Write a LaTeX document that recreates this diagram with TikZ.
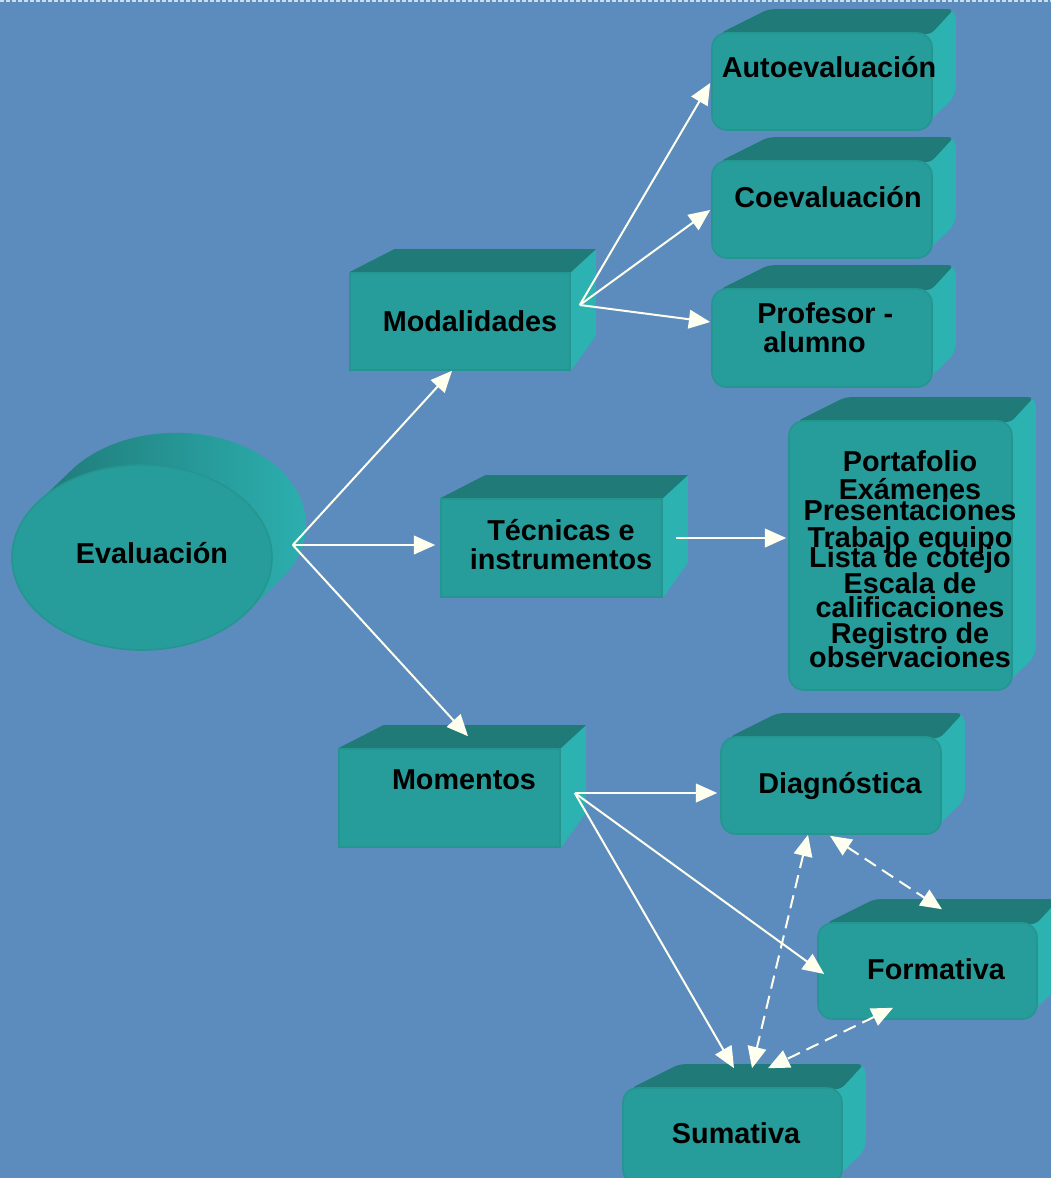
\documentclass[tikz,border=0pt]{standalone}
\usepackage{fontspec}
\setmainfont{Liberation Sans}
\usetikzlibrary{arrows.meta,shapes.geometric,fit}
\definecolor{bgc}{HTML}{5B8CBD}
\definecolor{frontc}{HTML}{279D9B}
\definecolor{edgec}{HTML}{25958F}
\definecolor{topc}{HTML}{1F7A78}
\definecolor{sidec}{HTML}{2DB2B2}
\definecolor{arrc}{HTML}{FFFFF0}
\definecolor{rimc}{HTML}{C9DEEA}
\newcommand\tightlines{\fontsize{21.6pt}{18pt}\selectfont\bfseries\lineskiplimit=-100pt\relax\lineskip=0pt\relax}
\pgfdeclarelayer{back}
\pgfdeclarelayer{mid}
\pgfsetlayers{back,mid,main}
\tikzset{
  frontsq/.style={fill=frontc, draw=edgec, line width=1.2pt, inner sep=0pt},
  frontrd/.style={frontsq, rounded corners=11pt},
  lbl/.style={font=\fontsize{21.6pt}{21.4pt}\selectfont\bfseries, text=black, inner sep=0pt},
  conn/.style={draw=arrc, color=arrc, line width=1.5pt, -{Triangle[length=16pt,width=14pt]}},
  dconn/.style={draw=arrc, color=arrc, line width=1.5pt, {Triangle[length=16pt,width=14pt]}-{Triangle[length=16pt,width=14pt]}, dash pattern=on 10pt off 5.5pt},
}
\newcommand\extsq[1]{%
  \begin{pgfonlayer}{mid}
  \fill[sidec] (#1.north east) -- ([shift={(25,-23)}]#1.north east) -- ([shift={(25,-35)}]#1.south east) -- (#1.south east) -- cycle;
  \fill[topc] (#1.north west) -- ([shift={(45,-23)}]#1.north west) -- ([shift={(25,-23)}]#1.north east) -- (#1.north east) -- cycle;
  \end{pgfonlayer}}
\newcommand\extrd[1]{%
  \begin{pgfonlayer}{mid}
  \fill[sidec, rounded corners=7pt] ([shift={(57,-23)}]#1.north west) -- ([shift={(23,-23)}]#1.north east) -- ([shift={(23,-35)}]#1.south east) -- ([shift={(-14,0)}]#1.south east) -- ([shift={(-14,0)}]#1.north east) -- cycle;
  \fill[topc, rounded corners=4pt] ([shift={(9,1)}]#1.north west) -- ([shift={(57,-23)}]#1.north west) -- ([shift={(21,-23)}]#1.north east) -- ([shift={(-2,2)}]#1.north east) -- cycle;
  \end{pgfonlayer}}
\begin{document}
\begin{tikzpicture}[x=0.75pt,y=-0.75pt]
\useasboundingbox (0,0) rectangle (1050,1178);
\begin{pgfonlayer}{back}
  \fill[bgc] (-6,-6) rectangle (1056,1184);
  \draw[rimc, line width=1.5pt, dash pattern=on 3pt off 1.5pt] (-6,1) -- (1056,1);
\end{pgfonlayer}

% Evaluacion (extruded ellipse)
\begin{pgfonlayer}{mid}
  \shade[left color=topc, right color=sidec] (247,611.7) -- (281,579)
    arc[start angle=-36.1, end angle=143.9, x radius=97.5pt, y radius=69pt] -- (37,503.3) -- cycle;
\end{pgfonlayer}
\node[ellipse, fill=frontc, draw=edgec, line width=1.2pt, inner sep=0pt,
      minimum width=195pt, minimum height=138.75pt] (evB) at (142,557.5) {};

% front faces
\node[frontsq, fit={(350,273)(570,370)}] (modB) {};
\node[frontsq, fit={(441,499)(662,597)}] (tecB) {};
\node[frontsq, fit={(339,749)(560,847)}] (momB) {};
\node[frontrd, fit={(712,33)(932,130)}] (autoB) {};
\node[frontrd, fit={(712,161)(932,258)}] (coB) {};
\node[frontrd, fit={(712,289)(932,387)}] (profB) {};
\node[frontrd, fit={(789,421)(1012,690)}] (portB) {};
\node[frontrd, fit={(721,737)(941,834)}] (diagB) {};
\node[frontrd, fit={(818,923)(1037,1019)}] (formB) {};
\node[frontrd, fit={(623,1088)(842,1184)}] (sumB) {};

\extsq{modB}\extsq{tecB}\extsq{momB}
\extrd{autoB}\extrd{coB}\extrd{profB}\extrd{portB}\extrd{diagB}\extrd{formB}\extrd{sumB}

% labels
\node[lbl, anchor=base] (ev) at (152,563) {Evaluación};
\node[lbl, anchor=base] (mod) at (470,331) {Modalidades};
\node[lbl, align=center, anchor=north] (tec) at (561,519.5) {Técnicas e\\instrumentos};
\node[lbl, anchor=base] (mom) at (464,789) {Momentos};
\node[lbl, anchor=base] (auto) at (829,77) {Autoevaluación};
\node[lbl, anchor=base] (co) at (828,207) {Coevaluación};
\node[lbl, align=left, anchor=north west] (prof) at (757,302.5) {Profesor -\\\hspace*{4.5pt}alumno};
\node[lbl, align=center, anchor=north, font=\tightlines] (port) at (910,450)
  {Portafolio\\[3pt]Exámenes\\[-2.25pt]Presentaciones\\[2.25pt]Trabajo equipo\\[-3pt]Lista de cotejo\\[1.5pt]Escala de\\calificaciones\\[1.5pt]Registro de\\observaciones};
\node[lbl, anchor=base] (diag) at (840,793) {Diagnóstica};
\node[lbl, anchor=base] (form) at (936,979) {Formativa};
\node[lbl, anchor=base] (sum) at (736,1143) {Sumativa};

% connectors
\draw[conn] ([shift={(20,-12.5)}]evB.east) -- ([shift={(-8,0)}]modB.south);
\draw[conn] ([shift={(20,-12.5)}]evB.east) -- ([shift={(-5,-3)}]tecB.west);
\draw[conn] ([shift={(20,-12.5)}]evB.east) -- ([shift={(18.5,-12)}]momB.north);
\draw[conn] ([shift={(9,-16.5)}]modB.east) -- ([shift={(-1,1.5)}]autoB.west);
\draw[conn] ([shift={(9,-16.5)}]modB.east) -- ([shift={(-1,0.5)}]coB.west);
\draw[conn] ([shift={(9,-16.5)}]modB.east) -- ([shift={(-1,-16)}]profB.west);
\draw[conn] ([shift={(13,-10)}]tecB.east) -- ([shift={(-2,-17.5)}]portB.west);
\draw[conn] ([shift={(14,-5)}]momB.east) -- ([shift={(-3,7.5)}]diagB.west);
\draw[conn] ([shift={(14,-5)}]momB.east) -- ([shift={(7,3)}]formB.west);
\draw[conn] ([shift={(14,-5)}]momB.east) -- ([shift={(1.5,-19)}]sumB.north);
\draw[dconn] ([shift={(-23,0)}]diagB.south) -- ([shift={(19.5,-19)}]sumB.north);
\draw[dconn] ([shift={(-1,1)}]diagB.south) -- ([shift={(14.5,-13)}]formB.north);
\draw[dconn] ([shift={(-34.5,-12)}]formB.south) -- ([shift={(35.5,-19)}]sumB.north);
\end{tikzpicture}
\end{document}
